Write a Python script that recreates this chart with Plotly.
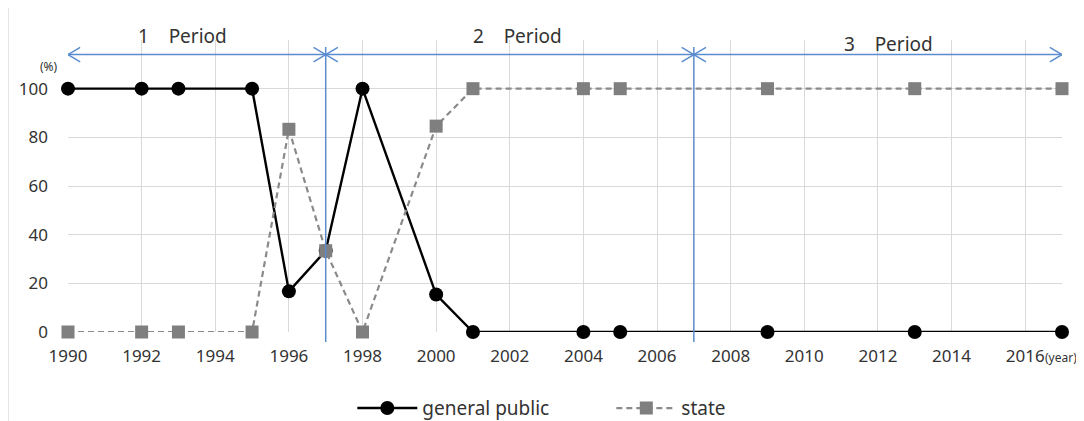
import plotly.graph_objects as go

years = [1990, 1992, 1993, 1995, 1996, 1997, 1998, 2000, 2001, 2004, 2005, 2009, 2013, 2017]
general_public = [100, 100, 100, 100, 16.7, 33.4, 100, 15.4, 0, 0, 0, 0, 0, 0]
state = [0, 0, 0, 0, 83.3, 33.4, 0, 84.6, 100, 100, 100, 100, 100, 100]
period_bounds = [1990, 1997, 2007, 2017]
period_labels = ["1\u00a0\u00a0\u00a0 Period", "2\u00a0\u00a0\u00a0 Period", "3\u00a0\u00a0\u00a0 Period"]
y_ticks = [0, 20, 40, 60, 80, 100, 120]
y_ticktext = ["0", "20", "40", "60", "80", "100", ""]

FONT = "Noto Sans, sans-serif"
BLUE = "#5b8bd0"
TXT = "#333333"

fig = go.Figure()
fig.add_trace(go.Scatter(
    x=years, y=general_public, name="general public", mode="lines+markers",
    line=dict(color="black", width=2.4),
    marker=dict(symbol="circle", size=14, color="black"),
    cliponaxis=False))
fig.add_trace(go.Scatter(
    x=years, y=state, name="state", mode="lines+markers",
    line=dict(color="#8a8a8a", width=2.2, dash="6px,4px"),
    marker=dict(symbol="square", size=13, color="#7f7f7f"),
    cliponaxis=False))

shapes = []
arrow_y = 114
ch_dx = 0.33
ch_dy = 3.0
shapes.append(dict(type="line", xref="x", yref="y", x0=period_bounds[0], x1=period_bounds[-1],
                   y0=arrow_y, y1=arrow_y, line=dict(color=BLUE, width=1.5)))
for b in period_bounds[1:-1]:
    shapes.append(dict(type="line", xref="x", yref="paper", x0=b, x1=b,
                       y0=-0.034, y1=0.976, line=dict(color=BLUE, width=1.5)))
for i in range(len(period_bounds) - 1):
    a, b = period_bounds[i], period_bounds[i + 1]
    for tip, d in ((a, 1), (b, -1)):
        for s in (1, -1):
            shapes.append(dict(type="line", xref="x", yref="y",
                               x0=tip, y0=arrow_y, x1=tip + d * ch_dx, y1=arrow_y + s * ch_dy,
                               line=dict(color=BLUE, width=1.5)))
shapes.append(dict(type="line", xref="paper", yref="paper", x0=-0.0604, x1=-0.0604,
                   y0=-0.31, y1=1.11, line=dict(color="#d0d0d0", width=1.2)))

annotations = []
label_x = [1993.1, 2002.2, 2012.3]
label_y = [1.012, 1.012, 0.988]
for lx, ly, t in zip(label_x, label_y, period_labels):
    annotations.append(dict(x=lx, y=ly, xref="x", yref="paper", text=t, showarrow=False,
                            font=dict(size=19, color=TXT, family=FONT),
                            xanchor="center", yanchor="middle"))
annotations.append(dict(x=-0.008, y=0.91, xref="paper", yref="paper", text="(%)",
                        showarrow=False, font=dict(size=12, color=TXT, family=FONT),
                        xanchor="right", yanchor="middle"))
annotations.append(dict(x=0.981, y=-0.086, xref="paper", yref="paper", text="(year)",
                        showarrow=False, font=dict(size=12, color=TXT, family=FONT),
                        xanchor="left", yanchor="middle"))

# page body has an 8px margin, so the figure is 8px smaller than the window
fig.update_layout(
    width=1076, height=413,
    margin=dict(l=60, r=22, t=32, b=89, autoexpand=False),
    paper_bgcolor="white", plot_bgcolor="white",
    font=dict(family=FONT, color=TXT, size=17),
    showlegend=True,
    legend=dict(orientation="h", xref="container", yref="container",
                x=0.32, xanchor="left", y=0.031, yanchor="middle",
                font=dict(size=19, color=TXT, family=FONT),
                entrywidth=184, entrywidthmode="pixels", itemwidth=60,
                tracegroupgap=0, bgcolor="rgba(0,0,0,0)"),
    shapes=shapes,
    annotations=annotations,
    xaxis=dict(range=[1990, 2017], tick0=1990, dtick=2, showgrid=True,
               gridcolor="#d9d9d9", gridwidth=1, zeroline=False, showline=False,
               tickfont=dict(size=17, color=TXT, family=FONT), ticks="",
               ticklabelstandoff=12, automargin=False),
    yaxis=dict(range=[0, 120], tickvals=y_ticks, ticktext=y_ticktext, showgrid=True,
               gridcolor="#d9d9d9", gridwidth=1, zeroline=False, showline=False,
               tickfont=dict(size=17, color=TXT, family=FONT), ticks="",
               ticklabelstandoff=19, automargin=False),
)

fig.write_html("out.html")
